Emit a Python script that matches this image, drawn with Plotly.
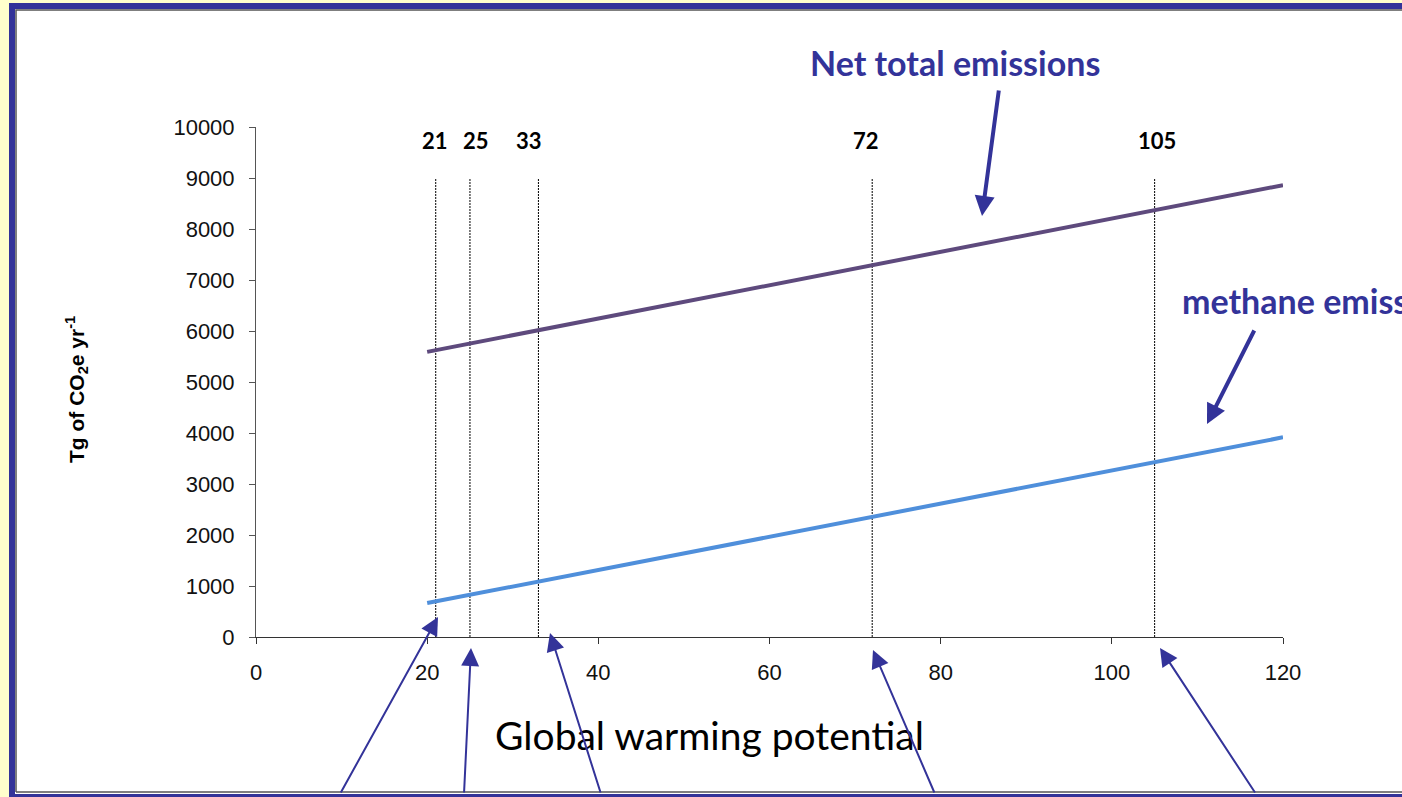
import plotly.graph_objects as go

# Global warming potential of methane used in each scenario
gwp_markers = [21, 25, 33, 72, 105]
marker_labels = ["21", "25", "33", "72", "105"]
marker_top = 9000

# Emission lines (Tg CO2e per year) at the ends of the GWP range
gwp_range = [20, 120]
net_total = [5590, 8860]
methane = [665, 3915]

x_ticks = [0, 20, 40, 60, 80, 100, 120]
y_ticks = list(range(0, 10001, 1000))
y_tick_text = [str(v) for v in y_ticks]

W, H = 1402, 797
L, R, T, B = 256, 1283, 127, 637   # plot area in pixels
BLUE = "#333399"


def px(x):
    return (x - L) / (R - L)


def py(y):
    return (B - y) / (B - T)


fig = go.Figure()

for g in gwp_markers:
    fig.add_trace(go.Scatter(
        x=[g, g], y=[0, marker_top], mode="lines",
        line=dict(color="black", width=1, dash="2px,1px"),
        hoverinfo="skip", showlegend=False))

fig.add_trace(go.Scatter(x=gwp_range, y=net_total, mode="lines",
                         line=dict(color="#5E4A7D", width=4),
                         showlegend=False))
fig.add_trace(go.Scatter(x=gwp_range, y=methane, mode="lines",
                         line=dict(color="#4F8FDB", width=4),
                         showlegend=False))

annotations = []

# value labels above each dashed line
label_shift = [-1, 6, -9, -6, 2]
for g, lab, s in zip(gwp_markers, marker_labels, label_shift):
    annotations.append(dict(
        x=g, y=py(140), xref="x", yref="paper", text=f"<b>{lab}</b>",
        showarrow=False, xshift=s, xanchor="center", yanchor="middle",
        font=dict(family="Lato", size=22, color="black")))

# series captions
annotations.append(dict(
    x=px(955), y=py(62), xref="paper", yref="paper",
    xanchor="center", yanchor="middle",
    text="<b>Net total emissions</b>", showarrow=False,
    font=dict(family="Lato", size=34, color=BLUE)))
annotations.append(dict(
    x=px(1180), y=py(300), xref="paper", yref="paper",
    xanchor="left", yanchor="middle",
    text="<b>methane emissions</b>", showarrow=False,
    font=dict(family="Lato", size=34, color=BLUE)))

# axis titles
annotations.append(dict(
    x=px(709), y=py(735), xref="paper", yref="paper",
    xanchor="center", yanchor="middle",
    text="Global warming potential", showarrow=False,
    font=dict(family="Lato", size=39, color="black")))
annotations.append(dict(
    x=px(76), y=py(390), xref="paper", yref="paper", textangle=-90,
    xanchor="center", yanchor="middle",
    text="<b>Tg of CO<sub>2</sub>e yr<sup>-1</sup></b>", showarrow=False,
    font=dict(family="Liberation Sans", size=21, color="black")))

# pointer arrows: (head x, head y, tail x, tail y, width, size)
arrows = [
    (982, 216, 999, 89, 4, 1.0),
    (1207, 424, 1255, 329, 4, 1.0),
    (438, 617, 340, 794, 2, 1.8),
    (471, 648, 464, 794, 2, 1.8),
    (550, 633, 601, 794, 2, 1.8),
    (873, 650, 935, 794, 2, 1.8),
    (1160, 648, 1256, 794, 2, 1.8),
]
for hx, hy, tx, ty, w, s in arrows:
    annotations.append(dict(
        x=px(hx), y=py(hy), xref="paper", yref="paper",
        ax=tx - hx, ay=ty - hy, text="", showarrow=True,
        arrowhead=2, arrowwidth=w, arrowsize=s, arrowcolor=BLUE,
        standoff=0, startstandoff=0))

# slide frame
shapes = [
    dict(type="rect", xref="paper", yref="paper", x0=px(0), x1=px(9),
         y0=py(0), y1=py(H), fillcolor="#FFFFCC", line_width=0,
         layer="below"),
    dict(type="rect", xref="paper", yref="paper", x0=px(0), x1=px(W),
         y0=py(0), y1=py(3), fillcolor="#FFFFCC", line_width=0,
         layer="below"),
    dict(type="rect", xref="paper", yref="paper", x0=px(9), x1=px(15),
         y0=py(3), y1=py(H), fillcolor=BLUE, line_width=0),
    dict(type="rect", xref="paper", yref="paper", x0=px(9), x1=px(W),
         y0=py(3), y1=py(9), fillcolor=BLUE, line_width=0),
    dict(type="rect", xref="paper", yref="paper", x0=px(9), x1=px(W),
         y0=py(794), y1=py(H), fillcolor=BLUE, line_width=0),
    dict(type="path", xref="paper", yref="paper",
         path=f"M{px(16)},{py(792)} L{px(16)},{py(10)} L{px(W)},{py(10)}",
         line=dict(color="#555555", width=1.5)),
    dict(type="line", xref="paper", yref="paper", x0=px(16), x1=px(W),
         y0=py(792), y1=py(792), line=dict(color="#555555", width=1.5)),
]

fig.update_layout(
    width=W, height=H,
    margin=dict(l=L, r=W - R, t=T, b=H - B, pad=0),
    paper_bgcolor="white", plot_bgcolor="white",
    showlegend=False,
    annotations=annotations, shapes=shapes,
    xaxis=dict(range=[0, 120], tickvals=x_ticks, showgrid=False,
               zeroline=False, showline=True, linecolor="#333333",
               linewidth=1, ticks="outside", ticklen=6, tickcolor="#333333",
               ticklabelstandoff=10,
               tickfont=dict(family="Liberation Sans", size=22,
                             color="#111111")),
    yaxis=dict(range=[0, 10000], tickvals=y_ticks, ticktext=y_tick_text,
               showgrid=False,
               zeroline=False, showline=True, linecolor="#555555",
               linewidth=1, ticks="outside", ticklen=6, tickcolor="#555555",
               ticklabelstandoff=10,
               tickfont=dict(family="Liberation Sans", size=22,
                             color="#111111")),
)

fig.write_html(
    "out.html",
    config={"displayModeBar": False},
    post_script="document.body.style.margin='0';"
                "document.body.style.overflow='hidden';",
)
